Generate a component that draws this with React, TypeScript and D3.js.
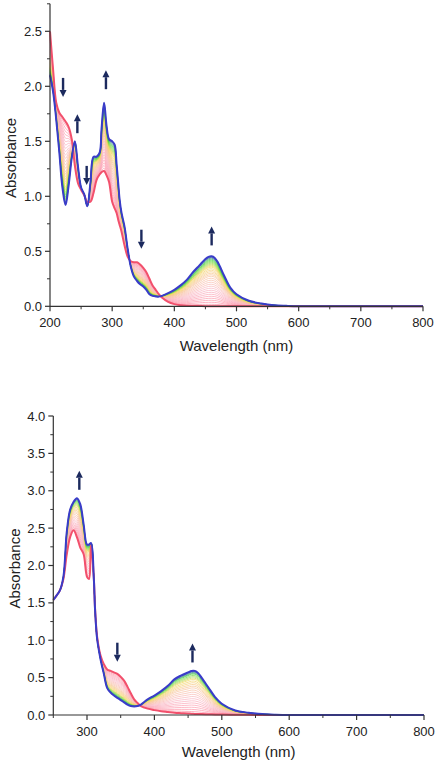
import React from "react";
import * as d3 from "d3";

// ---------- Top panel data ----------
const topWavelengths = [200,205,210,215,220,225,230,235,240,245,250,255,260,265,270,275,280,283,287,291,295,300,304,307,310,312,315,320,325,330,335,340,345,350,355,360,365,370,375,380,390,400,410,420,430,440,450,455,460,465,470,480,490,500,520,540,560,580,600,650,700,750,800];
const topInitial = [2.50,2.15,1.85,1.76,1.72,1.68,1.63,1.52,1.28,1.12,1.06,1.01,0.95,0.95,1.03,1.15,1.20,1.22,1.23,1.19,1.13,0.95,0.89,0.85,0.78,0.74,0.68,0.55,0.45,0.41,0.40,0.40,0.38,0.35,0.31,0.25,0.19,0.15,0.11,0.08,0.04,0.02,0.01,0.005,0.003,0.002,0.001,0,0,0,0,0,0,0,0,0,0,0,0,0,0,0,0];
const topFinal = [2.10,1.95,1.70,1.40,1.08,0.92,1.10,1.35,1.50,1.27,1.08,1.02,0.91,1.12,1.36,1.36,1.40,1.62,1.85,1.64,1.52,1.50,1.47,1.30,1.10,0.97,0.85,0.72,0.52,0.36,0.27,0.23,0.20,0.18,0.15,0.11,0.095,0.09,0.088,0.095,0.12,0.15,0.19,0.24,0.31,0.37,0.43,0.45,0.455,0.44,0.40,0.28,0.17,0.11,0.05,0.025,0.01,0.004,0,0,0,0,0];
const topFractions = [0.04,0.08,0.12,0.16,0.2,0.24,0.28,0.32,0.36,0.4,0.44,0.48,0.52,0.56,0.6,0.63,0.66,0.69,0.72,0.75,0.78,0.8,0.82,0.84,0.86,0.88,0.9,0.92,0.94,0.96,0.975,0.99];
const topYTicks = [0, 0.5, 1.0, 1.5, 2.0, 2.5];
const topXTicks = [200, 300, 400, 500, 600, 700, 800];
const topArrows = [
  { nm: 221, abs: 1.99, dir: "down" },
  { nm: 244, abs: 1.66, dir: "up" },
  { nm: 259, abs: 1.19, dir: "down" },
  { nm: 290, abs: 2.06, dir: "up" },
  { nm: 347, abs: 0.61, dir: "down" },
  { nm: 460, abs: 0.64, dir: "up" },
];

// ---------- Bottom panel data ----------
const botWavelengths = [250,255,260,265,270,275,280,285,290,295,300,303,306,310,312,315,320,325,330,335,340,345,350,355,360,365,370,375,380,390,400,410,420,430,440,450,455,460,465,470,480,490,500,520,540,560,580,600,650,700,750,800];
const botInitial = [1.54,1.60,1.67,1.82,2.15,2.38,2.47,2.38,2.24,2.15,1.85,1.82,2.28,1.85,1.42,1.05,0.80,0.68,0.61,0.59,0.57,0.55,0.51,0.46,0.38,0.29,0.21,0.16,0.12,0.085,0.065,0.05,0.04,0.03,0.025,0.02,0.018,0.015,0.013,0.012,0.01,0.008,0.006,0.004,0.002,0,0,0,0,0,0,0];
const botFinal = [1.54,1.60,1.67,1.85,2.45,2.75,2.85,2.90,2.82,2.55,2.28,2.28,2.30,1.85,1.40,1.02,0.75,0.55,0.36,0.30,0.26,0.23,0.20,0.17,0.14,0.12,0.115,0.12,0.14,0.21,0.26,0.32,0.39,0.48,0.53,0.57,0.59,0.59,0.56,0.50,0.37,0.24,0.15,0.06,0.03,0.012,0.004,0,0,0,0,0];
const botFractions = [0.05,0.1,0.15,0.2,0.25,0.3,0.35,0.4,0.45,0.5,0.55,0.6,0.64,0.68,0.72,0.76,0.8,0.83,0.86,0.89,0.92,0.94,0.96,0.98,0.99];
const botYTicks = [0, 0.5, 1.0, 1.5, 2.0, 2.5, 3.0, 3.5, 4.0];
const botXTicks = [300, 400, 500, 600, 700, 800];
const botArrows = [
  { nm: 288.6, abs: 3.14, dir: "up" },
  { nm: 345, abs: 0.84, dir: "down" },
  { nm: 456.5, abs: 0.83, dir: "up" },
];

const RED = "#f2506c";
const BLUE = "#3a3cc8";
const ARROW = "#1c2a5e";
const AXIS = "#333";
const FONT = "'Liberation Sans', Arial, sans-serif";

const colorScale = d3
  .scaleLinear<string>()
  .domain([0, 0.35, 0.62, 0.8, 0.92, 1])
  .range(["#ff8aa0", "#f9b6c4", "#f8c49c", "#f2d860", "#4cd83c", "#3040c8"]);

type Arrow = { nm: number; abs: number; dir: string };

function Panel(props: {
  wl: number[]; init: number[]; fin: number[]; fracs: number[];
  xDomain: [number, number]; yDomain: [number, number];
  x0: number; x1: number; y0: number; y1: number;
  yTicks: number[]; xTicks: number[]; yMinorStep: number; xMinor: number[];
  arrows: Arrow[]; yTitleX: number; xTitleY: number;
}) {
  const { wl, init, fin, fracs, xDomain, yDomain, x0, x1, y0, y1, yTicks, xTicks, xMinor, arrows } = props;
  const x = d3.scaleLinear().domain(xDomain).range([x0, x1]);
  const y = d3.scaleLinear().domain(yDomain).range([y0, y1]);
  const line = d3
    .line<number>()
    .x((_, i) => x(wl[i]))
    .y((v) => y(v))
    .curve(d3.curveCatmullRom.alpha(0.5));
  const mix = (f: number) => init.map((v, i) => v * (1 - f) + fin[i] * f);
  const yMinor = d3.range(yDomain[0], yDomain[1] + 1e-9, props.yMinorStep).filter(
    (v) => !yTicks.some((t) => Math.abs(t - v) < 1e-6)
  );
  const arrowLen = 19;
  return (
    <g>
      {fracs.map((f, k) => (
        <path key={k} d={line(mix(f)) || ""} fill="none" stroke={colorScale(f)} strokeWidth={0.8} opacity={0.9} />
      ))}
      <path d={line(init) || ""} fill="none" stroke={RED} strokeWidth={2} />
      <path d={line(fin) || ""} fill="none" stroke={BLUE} strokeWidth={2} />
      {/* axes */}
      <line x1={x0} x2={x0} y1={y0} y2={y1} stroke={AXIS} strokeWidth={1.2} />
      <line x1={x0} x2={x1} y1={y0} y2={y0} stroke={AXIS} strokeWidth={1.2} />
      {yTicks.map((t) => (
        <g key={"yt" + t}>
          <line x1={x0 - 5} x2={x0} y1={y(t)} y2={y(t)} stroke={AXIS} strokeWidth={1.2} />
          <text x={x0 - 8} y={y(t)} dy="0.35em" textAnchor="end" fontSize={13} fontFamily={FONT} fill="#222">
            {t.toFixed(1)}
          </text>
        </g>
      ))}
      {yMinor.map((t) => (
        <line key={"ym" + t} x1={x0 - 3} x2={x0} y1={y(t)} y2={y(t)} stroke={AXIS} strokeWidth={1} />
      ))}
      {xTicks.map((t) => (
        <g key={"xt" + t}>
          <line x1={x(t)} x2={x(t)} y1={y0} y2={y0 + 5} stroke={AXIS} strokeWidth={1.2} />
          <text x={x(t)} y={y0 + 21} textAnchor="middle" fontSize={13} fontFamily={FONT} fill="#222">
            {t}
          </text>
        </g>
      ))}
      {xMinor.map((t) => (
        <line key={"xm" + t} x1={x(t)} x2={x(t)} y1={y0} y2={y0 + 3} stroke={AXIS} strokeWidth={1} />
      ))}
      <text x={(x0 + x1) / 2} y={props.xTitleY} textAnchor="middle" fontSize={15} fontFamily={FONT} fill="#222">
        Wavelength (nm)
      </text>
      <text
        transform={`translate(${props.yTitleX},${(y0 + y1) / 2 + 3}) rotate(-90)`}
        textAnchor="middle" fontSize={15} fontFamily={FONT} fill="#222"
      >
        Absorbance
      </text>
      {arrows.map((a, k) => {
        const cx = x(a.nm);
        const cy = y(a.abs);
        const up = a.dir === "up";
        const tip = up ? cy - arrowLen / 2 : cy + arrowLen / 2;
        const tail = up ? cy + arrowLen / 2 : cy - arrowLen / 2;
        const hb = up ? tip + 7 : tip - 7;
        return (
          <g key={"ar" + k}>
            <line x1={cx} x2={cx} y1={tail} y2={hb} stroke={ARROW} strokeWidth={2.4} />
            <path d={`M${cx},${tip} L${cx - 3.5},${hb} L${cx + 3.5},${hb} Z`} fill={ARROW} />
          </g>
        );
      })}
    </g>
  );
}

export default function App() {
  return (
    <svg width={439} height={766} style={{ position: "absolute", left: 0, top: 0, background: "#fff" }}>
      <Panel
        wl={topWavelengths} init={topInitial} fin={topFinal} fracs={topFractions}
        xDomain={[200, 800]} yDomain={[0, 2.75]}
        x0={50} x1={423} y0={306.3} y1={3.8}
        yTicks={topYTicks} xTicks={topXTicks} yMinorStep={0.25}
        xMinor={[250, 350, 450, 550, 650, 750]}
        arrows={topArrows} yTitleX={16} xTitleY={351}
      />
      <Panel
        wl={botWavelengths} init={botInitial} fin={botFinal} fracs={botFractions}
        xDomain={[250, 800]} yDomain={[0, 4]}
        x0={53.3} x1={424} y0={715} y1={416}
        yTicks={botYTicks} xTicks={botXTicks} yMinorStep={0.25}
        xMinor={[250, 350, 450, 550, 650, 750]}
        arrows={botArrows} yTitleX={20} xTitleY={757}
      />
    </svg>
  );
}
